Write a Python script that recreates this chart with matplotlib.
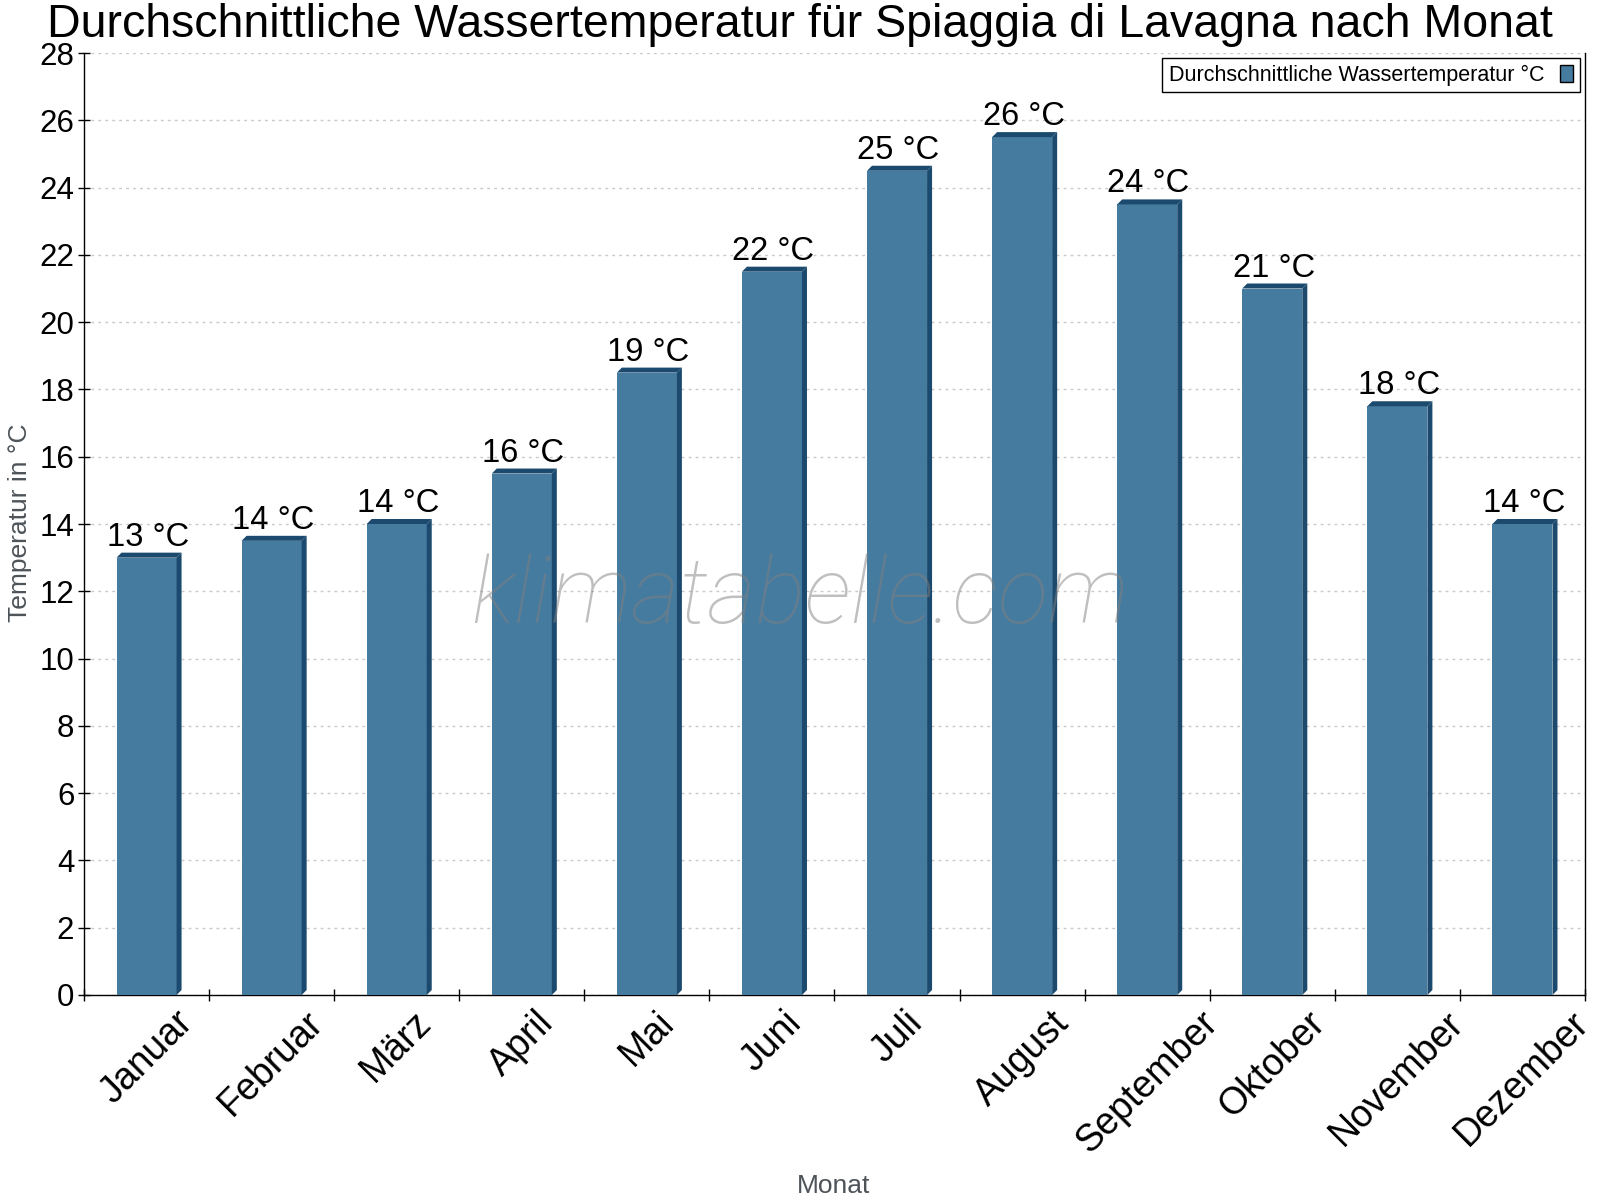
import matplotlib
matplotlib.use("Agg")
import matplotlib.pyplot as plt
from matplotlib.patches import Polygon, Patch
import numpy as np

months = ["Januar", "Februar", "März", "April", "Mai", "Juni", "Juli",
          "August", "September", "Oktober", "November", "Dezember"]
water_temp = [13.0, 13.5, 14.0, 15.5, 18.5, 21.5, 24.5, 25.5, 23.5, 21.0, 17.5, 14.0]
bar_labels = ["13 °C", "14 °C", "14 °C", "16 °C", "19 °C", "22 °C", "25 °C",
              "26 °C", "24 °C", "21 °C", "18 °C", "14 °C"]
yticks = list(range(0, 29, 2))

title = "Durchschnittliche Wassertemperatur für Spiaggia di Lavagna nach Monat"
series_name = "Durchschnittliche Wassertemperatur °C"

FACE = "#467ba0"
DARK = "#1b4a6e"
FONT = ["Liberation Sans", "DejaVu Sans"]
plt.rcParams["font.family"] = FONT

W, H = 1600, 1200
fig = plt.figure(figsize=(W / 100, H / 100), dpi=100)
ax_l, ax_r, ax_t, ax_b = 84, 1585, 53, 995
ax = fig.add_axes([ax_l / W, 1 - ax_b / H, (ax_r - ax_l) / W, (ax_b - ax_t) / H])

n = len(months)
x = np.arange(n)
ax.set_xlim(-0.5, n - 0.5)
ax.set_ylim(0, 28)

bw = 0.48
ax.bar(x, water_temp, width=bw, color=FACE, zorder=3)

# 3D depth in data units from pixel size
dpx = 5.0
dx = dpx * (n) / (ax_r - ax_l)
dy = dpx * 28 / (ax_b - ax_t)
for xi, h in zip(x, water_temp):
    xl, xr = xi - bw / 2, xi + bw / 2
    side = Polygon([(xr, 0), (xr, h), (xr + dx, h + dy), (xr + dx, dy)],
                   closed=True, facecolor=DARK, edgecolor="none", zorder=3)
    top = Polygon([(xl, h), (xl + dx, h + dy), (xr + dx, h + dy), (xr, h)],
                  closed=True, facecolor=DARK, edgecolor="none", zorder=3)
    ax.add_patch(side)
    ax.add_patch(top)

for xi, h, lab in zip(x, water_temp, bar_labels):
    ax.annotate(lab, (xi, h + dy), xytext=(1, 5), textcoords="offset points",
                ha="center", va="baseline", fontsize=23.5, color="black", zorder=5)

# axes styling
ax.spines["top"].set_visible(False)
for s in ["left", "bottom", "right"]:
    ax.spines[s].set_linewidth(1.0)
    ax.spines[s].set_color("black")

ax.set_yticks(yticks)
ax.set_yticklabels([str(v) for v in yticks])
ax.tick_params(axis="y", direction="inout", length=8, width=1, pad=3, labelsize=22.5)
ax.yaxis.grid(True, linestyle=(0, (2, 3)), color="#c8c8c8", linewidth=1, zorder=0)
ax.set_axisbelow(True)

ax.set_xticks(np.arange(-0.5, n, 1.0))
ax.set_xticklabels([])
ax.tick_params(axis="x", which="major", direction="inout", length=9, width=1)
ax.set_xticks(x, minor=True)
ax.set_xticklabels(months, minor=True, rotation=45, ha="center", va="top", fontsize=27)
ax.tick_params(axis="x", which="minor", length=0, pad=7)

leg = ax.legend([Patch(facecolor=FACE, edgecolor="black", linewidth=1)], [series_name],
                loc="upper right", markerfirst=False, fontsize=15.5,
                fancybox=False, framealpha=1, edgecolor="black",
                handlelength=0.6, handleheight=0.8, handletextpad=0.75,
                borderpad=0.3, borderaxespad=0.24)
leg.get_frame().set_linewidth(1.0)
leg.set_zorder(6)

fig.text(0.5, 1 - 37 / H, title, ha="center", va="baseline", fontsize=33.5, color="black")
fig.text(20 / W, 1 - 523 / H, "Temperatur in °C", rotation=90, ha="center", va="center",
         fontsize=19, color="#4d5358")
fig.text(834 / W, 1 - 1186 / H, "Monat", ha="center", va="center", fontsize=19, color="#4d5358")

fig.text(0.5, 1 - 623 / H, "klimatabelle.com", ha="center", va="baseline",
         fontsize=67, color="gray", alpha=0.5, family=["Roboto", "DejaVu Sans"],
         fontweight="light", fontstyle="italic", zorder=10)

fig.savefig("out.png", dpi=100)
